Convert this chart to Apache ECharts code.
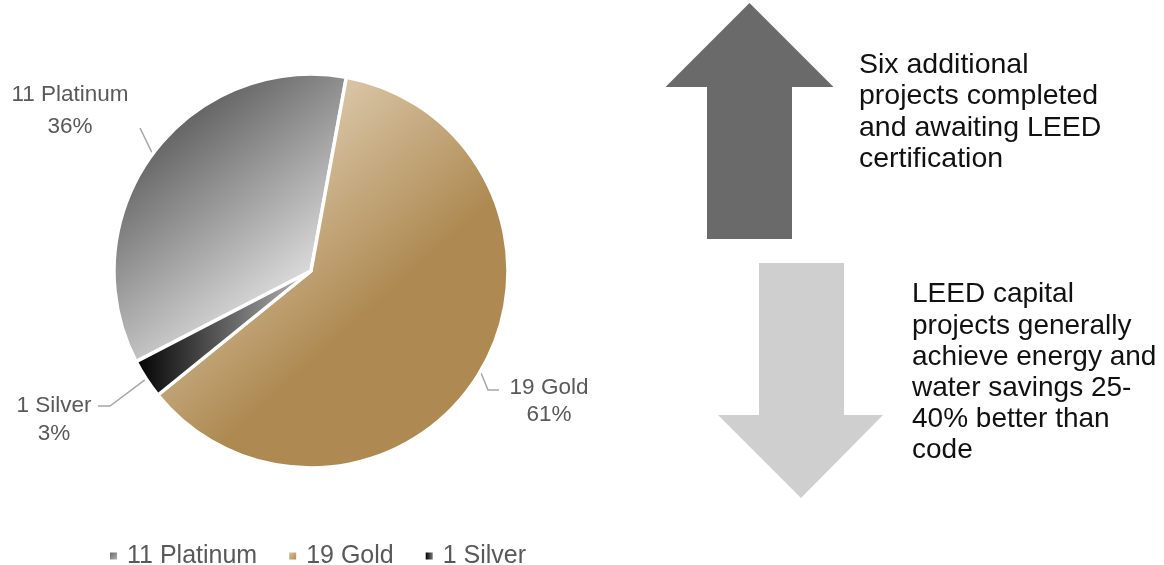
<!DOCTYPE html>
<html>
<head>
<meta charset="utf-8">
<script src="https://cdn.jsdelivr.net/npm/echarts@6/dist/echarts.min.js"></script>
<style>
html,body{margin:0;padding:0;background:#fff;}
#chart{width:1164px;height:565px;}
</style>
</head>
<body>
<div id="chart"></div>
<script>
// ---- data ----
const levels = ['Platinum', 'Gold', 'Silver'];
const counts = [11, 19, 1];
const categories = levels.map((l, i) => counts[i] + ' ' + l);
const noteUp = 'Six additional\nprojects completed\nand awaiting LEED\ncertification';
const noteDown = 'LEED capital\nprojects generally\nachieve energy and\nwater savings 25-\n40% better than\ncode';

// ---- styles ----
const FONT = '"Liberation Sans", Arial, Helvetica, sans-serif';
const fills = [
  new echarts.graphic.LinearGradient(0, 0, 1, 1, [
    {offset: 0, color: '#343434'}, {offset: 0.8, color: '#e6e6e6'}, {offset: 1, color: '#eeeeee'}]),
  new echarts.graphic.LinearGradient(0, 0, 1, 1, [
    {offset: 0, color: '#eadcc6'}, {offset: 0.27, color: '#d6c1a0'},
    {offset: 0.6, color: '#ae8a52'}, {offset: 1, color: '#ae8a52'}]),
  new echarts.graphic.LinearGradient(0, 0, 1, 0, [
    {offset: 0, color: '#000000'}, {offset: 1, color: '#bbbbbb'}])
];
const legendFills = [
  new echarts.graphic.LinearGradient(0, 0, 1, 1, [{offset: 0, color: '#6a6a6a'}, {offset: 1, color: '#b0b0b0'}]),
  new echarts.graphic.LinearGradient(0, 0, 1, 1, [{offset: 0, color: '#d6c1a0'}, {offset: 1, color: '#b08c55'}]),
  new echarts.graphic.LinearGradient(0, 0, 1, 0, [{offset: 0, color: '#000000'}, {offset: 1, color: '#777777'}])
];
// label placement (centre of label block) and leader bends
const labelPos = [
  {x: 70, y: 111, lh: 32, bend: [[140, 128], [140, 128]]},
  {x: 549, y: 401, lh: 27, bend: [[488, 390], [499, 390]]},
  {x: 54, y: 420, lh: 28, bend: [[110, 406], [98, 406]]}
];

const pieData = categories.map((name, i) => ({
  name: name,
  value: counts[i],
  itemStyle: {color: fills[i]},
  label: {lineHeight: labelPos[i].lh}
}));

const chart = echarts.init(document.getElementById('chart'), null, {renderer: 'canvas'});
chart.setOption({
  backgroundColor: '#ffffff',
  animation: false,
  legend: {
    data: categories.map((name, i) => ({
      name: name,
      itemStyle: {color: legendFills[i], borderWidth: 0, borderColor: 'rgba(0,0,0,0)'}
    })),
    left: 105,
    top: 536,
    icon: 'rect',
    itemWidth: 7,
    itemHeight: 7,
    itemGap: 32,
    itemStyle: {borderWidth: 0},
    textStyle: {fontFamily: FONT, fontSize: 25, color: '#595959', lineHeight: 30, padding: [0, 0, 0, 5]}
  },
  series: [{
    type: 'pie',
    center: [311, 271],
    radius: 197,
    startAngle: 207.4,
    clockwise: true,
    percentPrecision: 0,
    avoidLabelOverlap: false,
    itemStyle: {borderColor: '#ffffff', borderWidth: 3.5},
    label: {
      show: true,
      position: 'outside',
      formatter: '{b}\n{d}%',
      fontFamily: FONT,
      fontSize: 22.5,
      color: '#595959'
    },
    labelLine: {show: true, lineStyle: {color: '#a6a6a6', width: 1.5}},
    labelLayout: function (params) {
      const p = labelPos[params.dataIndex];
      const start = params.labelLinePoints ? params.labelLinePoints[0] : p.bend[0];
      return {
        x: p.x,
        y: p.y,
        align: 'center',
        verticalAlign: 'middle',
        labelLinePoints: [start, p.bend[0], p.bend[1]]
      };
    },
    emphasis: {disabled: true},
    data: pieData
  }],
  graphic: [
    {
      type: 'polygon',
      shape: {points: [[749.5, 3], [833.5, 87], [792, 87], [792, 239], [707, 239], [707, 87], [665.5, 87]]},
      style: {fill: '#6a6a6a'}
    },
    {
      type: 'polygon',
      shape: {points: [[759, 263], [844, 263], [844, 415], [883, 415], [801, 498], [718, 415], [759, 415]]},
      style: {fill: '#cfcfcf'}
    },
    {
      type: 'text',
      left: 859,
      top: 49,
      style: {text: noteUp, fontFamily: FONT, fontSize: 28.5, lineHeight: 31.5, fill: '#111111'}
    },
    {
      type: 'text',
      left: 912,
      top: 279,
      style: {text: noteDown, fontFamily: FONT, fontSize: 28, lineHeight: 31.2, fill: '#111111'}
    }
  ]
});
</script>
</body>
</html>
